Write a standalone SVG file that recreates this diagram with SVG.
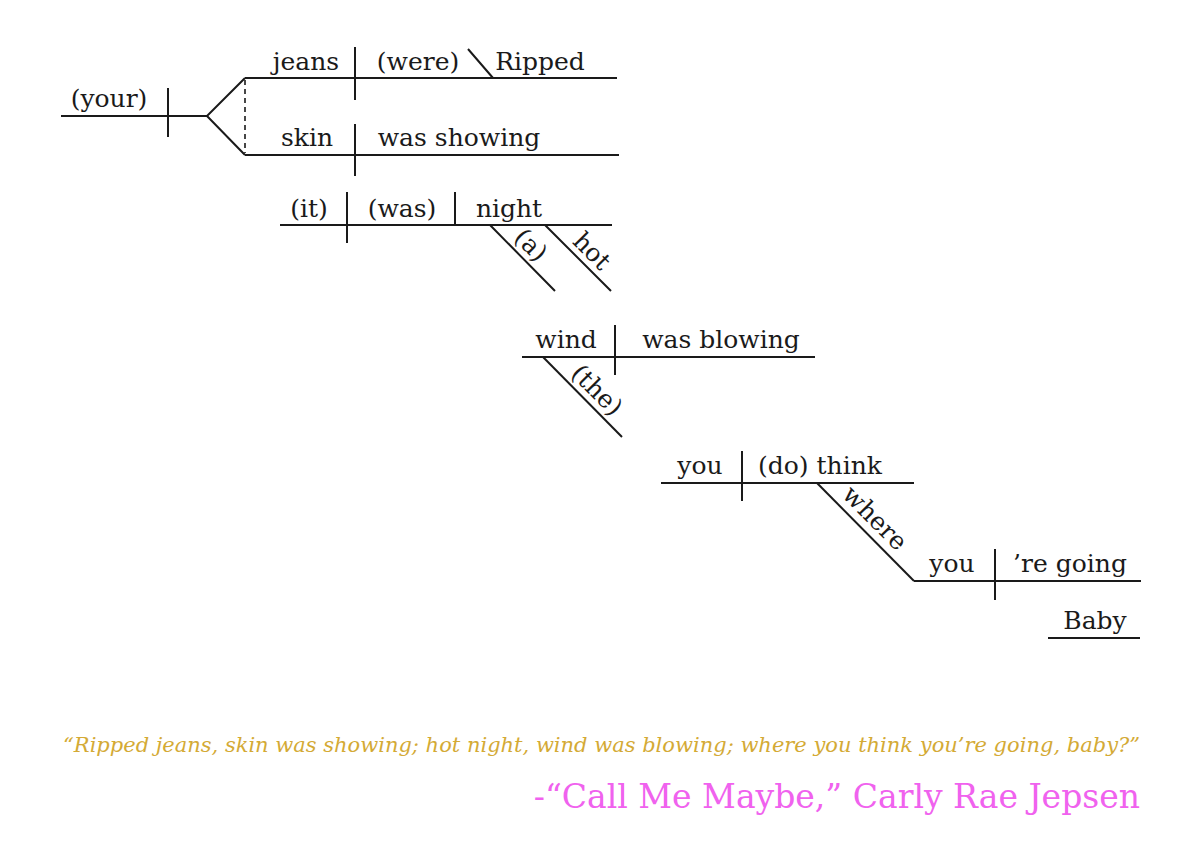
<svg xmlns="http://www.w3.org/2000/svg" width="1200" height="857" viewBox="0 0 1200 857">
<style>
.ln{stroke:#1a1a1a;stroke-width:2;fill:none;stroke-linecap:butt}
.dash{stroke:#1a1a1a;stroke-width:1.6;fill:none;stroke-dasharray:5,4}
.t{font-family:"DejaVu Serif",serif;font-size:25px;fill:#1a1a1a;text-anchor:middle}
.q{font-family:"DejaVu Serif",serif;font-style:italic;font-size:21px;fill:#d4aa35;text-anchor:end}
.a{font-family:"DejaVu Serif",serif;font-size:33px;fill:#f062ee;text-anchor:end}
</style>
<rect width="1200" height="857" fill="#ffffff"/>
<g id="connectors">
<path class="ln" d="M61,116 H207 L245,78 M207,116 L245,155"/>
<line class="dash" x1="245" y1="80" x2="245" y2="153"/>
<path class="ln" d="M490,225 L555,291 M545,225 L611,291"/>
<path class="ln" d="M543,357 L622,437"/>
<path class="ln" d="M817,483 L914,581"/>
</g>
<g id="node-your">
<path class="ln" d="M168,88 V137"/>
<text class="t" x="109" y="107">(your)</text>
</g>
<g id="node-jeans">
<path class="ln" d="M245,78 H617 M355,47 V100 M468,49 L493,78"/>
<text class="t" x="306" y="70">jeans</text>
<text class="t" x="418" y="70">(were)</text>
<text class="t" x="540" y="70">Ripped</text>
</g>
<g id="node-skin">
<path class="ln" d="M245,155 H619 M355,124 V176"/>
<text class="t" x="307" y="146">skin</text>
<text class="t" x="459" y="146">was showing</text>
</g>
<g id="node-night">
<path class="ln" d="M280,225 H612 M347,192 V243 M455,192 V225"/>
<text class="t" x="309" y="217">(it)</text>
<text class="t" x="402" y="217">(was)</text>
<text class="t" x="509" y="217">night</text>
<text class="t" transform="translate(525,251) rotate(45)">(a)</text>
<text class="t" transform="translate(586,257) rotate(45)">hot</text>
</g>
<g id="node-wind">
<path class="ln" d="M522,357 H815 M615,325 V375"/>
<text class="t" x="566" y="348">wind</text>
<text class="t" x="721" y="348">was blowing</text>
<text class="t" transform="translate(591,396) rotate(45)">(the)</text>
</g>
<g id="node-think">
<path class="ln" d="M661,483 H914 M742,451 V501"/>
<text class="t" x="700" y="474">you</text>
<text class="t" x="820" y="474">(do) think</text>
<text class="t" transform="translate(869,524) rotate(45)">where</text>
</g>
<g id="node-going">
<path class="ln" d="M914,581 H1141 M995,549 V600"/>
<text class="t" x="952" y="572">you</text>
<text class="t" x="1070" y="572">’re going</text>
</g>
<g id="node-baby">
<path class="ln" d="M1048,638 H1140"/>
<text class="t" x="1095" y="629">Baby</text>
</g>
<g id="caption">
<text class="q" x="1140" y="752">“Ripped jeans, skin was showing; hot night, wind was blowing; where you think you’re going, baby?”</text>
<text class="a" x="1140" y="808">-“Call Me Maybe,” Carly Rae Jepsen</text>
</g>
</svg>
